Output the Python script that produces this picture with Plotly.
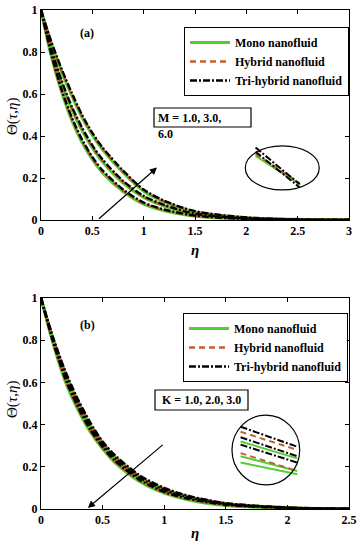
import plotly.graph_objects as go

# ---------------- data ----------------
eta_a = [0, 0.1, 0.2, 0.3, 0.4, 0.5, 0.6, 0.8, 1.0, 1.2, 1.5, 2.0, 2.5, 3.0]
mono_M1 = [1, 0.78, 0.61, 0.474, 0.369, 0.288, 0.224, 0.135, 0.075, 0.044, 0.018, 0.004, 0.001, 0]
hyb_M1 = [1, 0.785, 0.616, 0.481, 0.376, 0.294, 0.23, 0.14, 0.079, 0.047, 0.019, 0.004, 0.001, 0]
tri_M1 = [1, 0.79, 0.622, 0.488, 0.383, 0.30, 0.236, 0.145, 0.083, 0.05, 0.021, 0.005, 0.001, 0]
mono_M3 = [1, 0.805, 0.651, 0.526, 0.426, 0.343, 0.276, 0.176, 0.107, 0.066, 0.027, 0.007, 0.002, 0]
hyb_M3 = [1, 0.81, 0.658, 0.533, 0.433, 0.349, 0.282, 0.181, 0.111, 0.069, 0.029, 0.008, 0.002, 0]
tri_M3 = [1, 0.815, 0.665, 0.54, 0.44, 0.355, 0.288, 0.186, 0.115, 0.072, 0.03, 0.008, 0.002, 0]
mono_M6 = [1, 0.84, 0.706, 0.591, 0.488, 0.404, 0.334, 0.225, 0.137, 0.086, 0.038, 0.011, 0.003, 0.001]
hyb_M6 = [1, 0.845, 0.713, 0.598, 0.494, 0.41, 0.34, 0.23, 0.141, 0.089, 0.04, 0.011, 0.003, 0.001]
tri_M6 = [1, 0.85, 0.72, 0.605, 0.50, 0.415, 0.345, 0.235, 0.145, 0.092, 0.042, 0.012, 0.003, 0.001]

eta_b = [0, 0.1, 0.2, 0.3, 0.4, 0.5, 0.6, 0.8, 1.0, 1.2, 1.5, 2.0, 2.5]
tri_K1 = [1, 0.81, 0.65, 0.52, 0.41, 0.32, 0.255, 0.16, 0.10, 0.062, 0.028, 0.007, 0.001]
hyb_K1 = [1, 0.806, 0.644, 0.514, 0.404, 0.316, 0.251, 0.156, 0.097, 0.060, 0.027, 0.007, 0.001]
mono_K1 = [1, 0.803, 0.638, 0.508, 0.399, 0.311, 0.246, 0.153, 0.094, 0.057, 0.025, 0.006, 0.001]
tri_K2 = [1, 0.799, 0.631, 0.501, 0.393, 0.307, 0.242, 0.149, 0.091, 0.055, 0.024, 0.006, 0.001]
hyb_K2 = [1, 0.795, 0.625, 0.495, 0.388, 0.303, 0.238, 0.145, 0.088, 0.053, 0.023, 0.006, 0.001]
mono_K2 = [1, 0.791, 0.619, 0.489, 0.382, 0.298, 0.233, 0.141, 0.084, 0.050, 0.021, 0.005, 0.001]
tri_K3 = [1, 0.788, 0.613, 0.483, 0.376, 0.294, 0.229, 0.138, 0.081, 0.048, 0.020, 0.005, 0.001]
hyb_K3 = [1, 0.784, 0.606, 0.476, 0.371, 0.289, 0.224, 0.134, 0.078, 0.045, 0.018, 0.004, 0.001]
mono_K3 = [1, 0.78, 0.60, 0.47, 0.365, 0.285, 0.22, 0.13, 0.075, 0.043, 0.017, 0.004, 0.001]

# inset (zoom) segments
inset_a_x = [2.09, 2.52]
inset_a = {"tri": [[0.345, 0.17], [0.325, 0.155]],
           "hyb": [[0.315, 0.175]],
           "mono": [[0.305, 0.17]]}
inset_b_x = [1.62, 2.08]
inset_b = {"tri": [[0.39, 0.295], [0.34, 0.25], [0.305, 0.22]],
           "hyb": [[0.366, 0.28], [0.265, 0.18]],
           "mono": [[0.32, 0.24], [0.25, 0.18], [0.22, 0.165]]}

xticks_a = [0, 0.5, 1, 1.5, 2, 2.5, 3]
xticks_b = [0, 0.5, 1, 1.5, 2, 2.5]
yticks = [0, 0.2, 0.4, 0.6, 0.8, 1]

legend_names = {"mono": "Mono nanofluid", "hyb": "Hybrid nanofluid", "tri": "Tri-hybrid nanofluid"}

FONT = "Liberation Serif"
GREEN = "#55cc33"
BROWN = "#c0602e"
BLACK = "#000000"
styles = {"mono": dict(color=GREEN, width=3.0, dash="solid"),
          "hyb": dict(color=BROWN, width=2.4, dash="6px,4px"),
          "tri": dict(color=BLACK, width=2.4, dash="7px,2px,2px,2px")}

fig = go.Figure()

series_a = {"mono": [mono_M1, mono_M3, mono_M6],
            "hyb": [hyb_M1, hyb_M3, hyb_M6],
            "tri": [tri_M1, tri_M3, tri_M6]}
series_b = {"mono": [mono_K1, mono_K2, mono_K3],
            "hyb": [hyb_K1, hyb_K2, hyb_K3],
            "tri": [tri_K1, tri_K2, tri_K3]}
rank = {"mono": 1, "hyb": 2, "tri": 3}

for eta, series, xa, ya, leg in [(eta_a, series_a, "x", "y", "legend"),
                                 (eta_b, series_b, "x2", "y2", "legend2")]:
    for kind in ["mono", "hyb", "tri"]:
        for i, vals in enumerate(series[kind]):
            fig.add_trace(go.Scatter(
                x=eta, y=vals, mode="lines", line=dict(shape="spline", smoothing=0.8, **styles[kind]),
                name=legend_names[kind], showlegend=(i == 0), legend=leg, legendrank=rank[kind],
                xaxis=xa, yaxis=ya, hoverinfo="skip"))

for ix, insets, xa, ya in [(inset_a_x, inset_a, "x", "y"), (inset_b_x, inset_b, "x2", "y2")]:
    for kind in ["mono", "hyb", "tri"]:
        for seg in insets[kind]:
            st = dict(styles[kind])
            st["width"] = 2.0
            fig.add_trace(go.Scatter(x=ix, y=seg, mode="lines", line=st, showlegend=False,
                                     xaxis=xa, yaxis=ya, hoverinfo="skip"))

W, H = 361, 550
def px_x(p): return p / W
def px_y(p): return 1 - p / H

def lbl(v):
    return "<b>%g</b>" % v

tickfont = dict(family=FONT, size=12, color="black")
axis_common = dict(showline=True, linecolor="black", linewidth=1, mirror="ticks", ticks="inside",
                   ticklen=4, tickcolor="black", showgrid=False, zeroline=False, tickfont=tickfont,
                   automargin=False)

fig.update_layout(
    width=W, height=H, margin=dict(l=0, r=0, t=0, b=0, autoexpand=False),
    paper_bgcolor="white", plot_bgcolor="white",
    xaxis=dict(domain=[px_x(41), px_x(349)], range=[0, 3], tickvals=xticks_a,
               ticktext=[lbl(v) for v in xticks_a], anchor="y", **axis_common),
    yaxis=dict(domain=[px_y(220), px_y(10)], range=[0, 1], tickvals=yticks,
               ticktext=[lbl(v) for v in yticks], anchor="x", **axis_common),
    xaxis2=dict(domain=[px_x(41), px_x(349)], range=[0, 2.5], tickvals=xticks_b,
                ticktext=[lbl(v) for v in xticks_b], anchor="y2", **axis_common),
    yaxis2=dict(domain=[px_y(509), px_y(298)], range=[0, 1], tickvals=yticks,
                ticktext=[lbl(v) for v in yticks], anchor="x2", **axis_common),
    legend=dict(x=px_x(184), y=px_y(27), xanchor="left", yanchor="top", bgcolor="white",
                bordercolor="black", borderwidth=1, itemwidth=40, tracegroupgap=0,
                font=dict(family=FONT, size=12, color="black", weight="bold")),
    legend2=dict(x=px_x(183), y=px_y(313), xanchor="left", yanchor="top", bgcolor="white",
                 bordercolor="black", borderwidth=1, itemwidth=40, tracegroupgap=0,
                 font=dict(family=FONT, size=12, color="black", weight="bold")),
)

ann_font = dict(family=FONT, size=12, color="black")
title_font = dict(family=FONT, size=15, color="black")

def text_at(txt, xp, yp, font, **kw):
    params = dict(xanchor="center", yanchor="middle")
    params.update(kw)
    fig.add_annotation(text=txt, xref="paper", yref="paper", x=px_x(xp), y=px_y(yp),
                       showarrow=False, font=font, **params)

# axis titles
for yc in [117, 400]:
    text_at("Θ(<i>τ</i>,<i>η</i>)", 12, yc, title_font, textangle=-90)
for yc in [250, 533]:
    text_at("<b><i>η</i></b>", 195, yc, title_font)

text_at("<b>(a)</b>", 87, 33, ann_font)
text_at("<b>(b)</b>", 87, 325, ann_font)

# parameter labels
fig.add_shape(type="rect", xref="paper", yref="paper", x0=px_x(154), x1=px_x(251), y0=px_y(127), y1=px_y(108),
              line=dict(color="black", width=1.2), fillcolor="rgba(0,0,0,0)")
text_at("<b>M = 1.0, 3.0,<br>6.0</b>", 156, 109, ann_font, xanchor="left", yanchor="top", align="left")
fig.add_shape(type="rect", xref="paper", yref="paper", x0=px_x(155), x1=px_x(248), y0=px_y(410), y1=px_y(390),
              line=dict(color="black", width=1.2), fillcolor="white")
text_at("<b>K = 1.0, 2.0, 3.0</b>", 201.5, 400, ann_font)

# arrows
fig.add_annotation(x=1.13, y=0.25, ax=0.55, ay=0.0, xref="x", yref="y", axref="x", ayref="y",
                   text="", showarrow=True, arrowhead=2, arrowsize=1.2, arrowwidth=1.2, arrowcolor="black")
fig.add_annotation(x=0.38, y=0.005, ax=1.0, ay=0.31, xref="x2", yref="y2", axref="x2", ayref="y2",
                   text="", showarrow=True, arrowhead=2, arrowsize=1.2, arrowwidth=1.2, arrowcolor="black")

# ellipses around zoom insets
fig.add_shape(type="circle", xref="x", yref="y", x0=1.99, x1=2.71, y0=0.143, y1=0.353,
              line=dict(color="black", width=1.2))
fig.add_shape(type="circle", xref="x2", yref="y2", x0=1.55, x1=2.10, y0=0.114, y1=0.445,
              line=dict(color="black", width=1.2))

fig.write_html("out.html", config={"displayModeBar": False},
               post_script="document.body.style.margin='0px';")
